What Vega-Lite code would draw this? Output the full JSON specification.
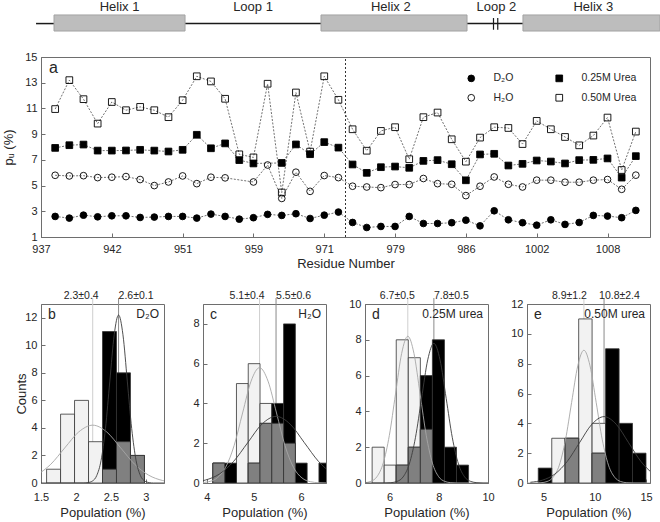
{
 "$schema": "https://vega.github.io/schema/vega-lite/v6.json",
 "padding": {"left": 2, "top": 0, "right": 0, "bottom": 0},
 "background": "white",
 "config": {
  "font": "Liberation Sans",
  "view": {"stroke": null},
  "axis": {"grid": false, "domainColor": "#6e6e6e", "domainWidth": 1, "tickColor": "#6e6e6e", "tickWidth": 1, "tickSize": -4, "labelPadding": 8, "labelFontSize": 11, "labelColor": "#262626", "labelFlush": false, "labelOverlap": false, "labelBound": false, "titleFontSize": 13, "titleFontWeight": "normal", "titleColor": "#262626", "labelFont": "Liberation Sans", "titleFont": "Liberation Sans"},
  "text": {"font": "Liberation Sans", "color": "#262626"}
 },
 "datasets": {
  "pu": [
   {"i":1,"d2o":2.60,"h2o":5.80,"u25":7.93,"u50":10.95},
   {"i":2,"d2o":2.47,"h2o":5.75,"u25":8.14,"u50":13.2},
   {"i":3,"d2o":2.70,"h2o":5.77,"u25":8.19,"u50":11.72},
   {"i":4,"d2o":2.57,"h2o":5.62,"u25":7.72,"u50":9.82},
   {"i":5,"d2o":2.65,"h2o":5.65,"u25":7.72,"u50":11.5},
   {"i":6,"d2o":2.65,"h2o":5.70,"u25":7.73,"u50":10.86},
   {"i":7,"d2o":2.52,"h2o":5.47,"u25":7.78,"u50":11.12},
   {"i":8,"d2o":2.55,"h2o":5.00,"u25":7.72,"u50":10.86},
   {"i":9,"d2o":2.60,"h2o":5.28,"u25":7.65,"u50":10.32},
   {"i":10,"d2o":2.60,"h2o":5.75,"u25":7.78,"u50":11.64},
   {"i":11,"d2o":2.47,"h2o":5.15,"u25":8.95,"u50":13.5},
   {"i":12,"d2o":2.78,"h2o":5.65,"u25":7.90,"u50":13.1},
   {"i":13,"d2o":2.60,"h2o":5.60,"u25":8.28,"u50":11.75},
   {"i":14,"d2o":2.39,"h2o":null,"u25":6.98,"u50":7.43},
   {"i":15,"d2o":2.50,"h2o":5.28,"u25":6.72,"u50":7.19},
   {"i":16,"d2o":2.76,"h2o":6.60,"u25":null,"u50":12.92},
   {"i":17,"d2o":2.68,"h2o":4.00,"u25":6.76,"u50":4.46},
   {"i":18,"d2o":2.81,"h2o":6.04,"u25":8.20,"u50":12.24},
   {"i":19,"d2o":2.44,"h2o":4.55,"u25":7.44,"u50":7.64},
   {"i":20,"d2o":2.70,"h2o":5.78,"u25":8.38,"u50":13.5},
   {"i":21,"d2o":2.94,"h2o":5.62,"u25":7.95,"u50":11.67},
   {"i":22,"d2o":2.13,"h2o":4.95,"u25":6.64,"u50":9.38},
   {"i":23,"d2o":1.74,"h2o":4.89,"u25":5.99,"u50":7.71},
   {"i":24,"d2o":1.82,"h2o":4.84,"u25":6.43,"u50":9.25},
   {"i":25,"d2o":1.82,"h2o":5.08,"u25":6.48,"u50":9.54},
   {"i":26,"d2o":2.60,"h2o":5.08,"u25":6.38,"u50":7.05},
   {"i":27,"d2o":2.05,"h2o":5.55,"u25":6.92,"u50":10.32},
   {"i":28,"d2o":2.05,"h2o":5.15,"u25":6.98,"u50":10.68},
   {"i":29,"d2o":2.11,"h2o":5.10,"u25":6.66,"u50":8.60},
   {"i":30,"d2o":2.31,"h2o":4.22,"u25":5.41,"u50":6.86},
   {"i":31,"d2o":1.87,"h2o":4.95,"u25":7.42,"u50":8.73},
   {"i":32,"d2o":3.04,"h2o":5.67,"u25":7.47,"u50":9.54},
   {"i":33,"d2o":2.34,"h2o":5.10,"u25":6.56,"u50":9.48},
   {"i":34,"d2o":2.11,"h2o":4.89,"u25":6.69,"u50":8.23},
   {"i":35,"d2o":1.92,"h2o":5.42,"u25":6.95,"u50":10.03},
   {"i":36,"d2o":2.34,"h2o":5.42,"u25":6.87,"u50":9.38},
   {"i":37,"d2o":1.98,"h2o":5.26,"u25":6.72,"u50":8.78},
   {"i":38,"d2o":2.13,"h2o":5.26,"u25":6.98,"u50":8.13},
   {"i":39,"d2o":2.68,"h2o":5.42,"u25":7.00,"u50":8.89},
   {"i":40,"d2o":2.63,"h2o":5.47,"u25":7.11,"u50":10.29},
   {"i":41,"d2o":2.50,"h2o":4.71,"u25":5.62,"u50":6.21},
   {"i":42,"d2o":3.07,"h2o":5.81,"u25":7.29,"u50":9.20}
  ],
  "schem": [
   {"seg":"","kind":"tail","start":-0.35,"end":0.92,"mid":0},
   {"seg":"Helix 1","kind":"helix","start":0.92,"end":10.17,"mid":5.55},
   {"seg":"Loop 1","kind":"loop","start":10.17,"end":19.77,"mid":14.97},
   {"seg":"Helix 2","kind":"helix","start":19.77,"end":30.08,"mid":24.7},
   {"seg":"Loop 2","kind":"loop","start":30.08,"end":34.03,"mid":32.15},
   {"seg":"Helix 3","kind":"helix","start":34.03,"end":43.7,"mid":39.0}
  ],
  "brk": [{"at":31.95},{"at":32.25}],
  "panels": [
   {"p":"a","tag":"a","cond":""},
   {"p":"b","tag":"b","cond":"D₂O"},
   {"p":"c","tag":"c","cond":"H₂O"},
   {"p":"d","tag":"d","cond":"0.25M urea"},
   {"p":"e","tag":"e","cond":"0.50M urea"}
  ],
  "hist": [
   {"p":"b","g":"light","x0":1.58,"x1":1.78,"n":1},
   {"p":"b","g":"light","x0":1.78,"x1":1.98,"n":5},
   {"p":"b","g":"light","x0":1.98,"x1":2.18,"n":6},
   {"p":"b","g":"light","x0":2.18,"x1":2.38,"n":3},
   {"p":"b","g":"light","x0":2.38,"x1":2.58,"n":1},
   {"p":"b","g":"light","x0":2.58,"x1":2.78,"n":3},
   {"p":"b","g":"light","x0":2.78,"x1":2.98,"n":2},
   {"p":"b","g":"dark","x0":2.38,"x1":2.58,"n":11},
   {"p":"b","g":"dark","x0":2.58,"x1":2.78,"n":8},
   {"p":"b","g":"dark","x0":2.78,"x1":2.98,"n":2},
   {"p":"b","g":"both","x0":2.38,"x1":2.58,"n":1},
   {"p":"b","g":"both","x0":2.58,"x1":2.78,"n":3},
   {"p":"b","g":"both","x0":2.78,"x1":2.98,"n":2},
   {"p":"c","g":"light","x0":4.13,"x1":4.38,"n":1},
   {"p":"c","g":"light","x0":4.63,"x1":4.88,"n":5},
   {"p":"c","g":"light","x0":4.88,"x1":5.13,"n":6},
   {"p":"c","g":"light","x0":5.13,"x1":5.38,"n":4},
   {"p":"c","g":"light","x0":5.38,"x1":5.63,"n":3},
   {"p":"c","g":"light","x0":5.63,"x1":5.88,"n":2},
   {"p":"c","g":"dark","x0":4.13,"x1":4.38,"n":1},
   {"p":"c","g":"dark","x0":4.38,"x1":4.63,"n":1},
   {"p":"c","g":"dark","x0":4.88,"x1":5.13,"n":1},
   {"p":"c","g":"dark","x0":5.13,"x1":5.38,"n":3},
   {"p":"c","g":"dark","x0":5.38,"x1":5.63,"n":4},
   {"p":"c","g":"dark","x0":5.63,"x1":5.88,"n":8},
   {"p":"c","g":"dark","x0":5.88,"x1":6.13,"n":1},
   {"p":"c","g":"dark","x0":6.38,"x1":6.63,"n":1},
   {"p":"c","g":"both","x0":4.13,"x1":4.38,"n":1},
   {"p":"c","g":"both","x0":4.88,"x1":5.13,"n":1},
   {"p":"c","g":"both","x0":5.13,"x1":5.38,"n":3},
   {"p":"c","g":"both","x0":5.38,"x1":5.63,"n":3},
   {"p":"c","g":"both","x0":5.63,"x1":5.88,"n":2},
   {"p":"d","g":"light","x0":5.29,"x1":5.78,"n":2},
   {"p":"d","g":"light","x0":5.78,"x1":6.27,"n":1},
   {"p":"d","g":"light","x0":6.27,"x1":6.76,"n":8},
   {"p":"d","g":"light","x0":6.76,"x1":7.25,"n":7},
   {"p":"d","g":"light","x0":7.25,"x1":7.74,"n":3},
   {"p":"d","g":"dark","x0":6.27,"x1":6.76,"n":1},
   {"p":"d","g":"dark","x0":6.76,"x1":7.25,"n":2},
   {"p":"d","g":"dark","x0":7.25,"x1":7.74,"n":6},
   {"p":"d","g":"dark","x0":7.74,"x1":8.23,"n":8},
   {"p":"d","g":"dark","x0":8.23,"x1":8.72,"n":2},
   {"p":"d","g":"dark","x0":8.72,"x1":9.21,"n":1},
   {"p":"d","g":"both","x0":6.27,"x1":6.76,"n":1},
   {"p":"d","g":"both","x0":6.76,"x1":7.25,"n":2},
   {"p":"d","g":"both","x0":7.25,"x1":7.74,"n":3},
   {"p":"e","g":"light","x0":5.79,"x1":7.10,"n":3},
   {"p":"e","g":"light","x0":7.10,"x1":8.42,"n":3},
   {"p":"e","g":"light","x0":8.42,"x1":9.73,"n":11},
   {"p":"e","g":"light","x0":9.73,"x1":11.05,"n":4},
   {"p":"e","g":"dark","x0":4.47,"x1":5.79,"n":1},
   {"p":"e","g":"dark","x0":7.10,"x1":8.42,"n":3},
   {"p":"e","g":"dark","x0":9.73,"x1":11.05,"n":2},
   {"p":"e","g":"dark","x0":11.05,"x1":12.37,"n":9},
   {"p":"e","g":"dark","x0":12.37,"x1":13.68,"n":4},
   {"p":"e","g":"dark","x0":13.68,"x1":15.0,"n":2},
   {"p":"e","g":"both","x0":7.10,"x1":8.42,"n":3},
   {"p":"e","g":"both","x0":9.73,"x1":11.05,"n":2}
  ],
  "means": [
   {"p":"b","g":"light","m":2.24,"txt":"2.3±0.4"},
   {"p":"b","g":"dark","m":2.61,"txt":"2.6±0.1"},
   {"p":"c","g":"light","m":5.12,"txt":"5.1±0.4"},
   {"p":"c","g":"dark","m":5.47,"txt":"5.5±0.6"},
   {"p":"d","g":"light","m":6.74,"txt":"6.7±0.5"},
   {"p":"d","g":"dark","m":7.8,"txt":"7.8±0.5"},
   {"p":"e","g":"light","m":8.93,"txt":"8.9±1.2"},
   {"p":"e","g":"dark","m":10.9,"txt":"10.8±2.4"}
  ],
  "curve": [
   {"p":"b","g":"light","x":1.44,"y":0.57},{"p":"b","g":"light","x":1.64,"y":1.36},{"p":"b","g":"light","x":1.84,"y":2.55},{"p":"b","g":"light","x":2.04,"y":3.71},{"p":"b","g":"light","x":2.24,"y":4.2},{"p":"b","g":"light","x":2.44,"y":3.71},{"p":"b","g":"light","x":2.64,"y":2.55},{"p":"b","g":"light","x":2.84,"y":1.36},{"p":"b","g":"light","x":3.04,"y":0.57},{"p":"b","g":"light","x":3.24,"y":0.18},{"p":"b","g":"light","x":3.44,"y":0.05},
   {"p":"b","g":"dark","x":1.45,"y":0},{"p":"b","g":"dark","x":2.11,"y":0},{"p":"b","g":"dark","x":2.1725,"y":0.03},{"p":"b","g":"dark","x":2.235,"y":0.14},{"p":"b","g":"dark","x":2.2975,"y":0.54},{"p":"b","g":"dark","x":2.36,"y":1.65},{"p":"b","g":"dark","x":2.4225,"y":3.96},{"p":"b","g":"dark","x":2.485,"y":7.4},{"p":"b","g":"dark","x":2.5475,"y":10.77},{"p":"b","g":"dark","x":2.61,"y":12.2},{"p":"b","g":"dark","x":2.6725,"y":10.77},{"p":"b","g":"dark","x":2.735,"y":7.4},{"p":"b","g":"dark","x":2.7975,"y":3.96},{"p":"b","g":"dark","x":2.86,"y":1.65},{"p":"b","g":"dark","x":2.9225,"y":0.54},{"p":"b","g":"dark","x":2.985,"y":0.14},{"p":"b","g":"dark","x":3.0475,"y":0.03},{"p":"b","g":"dark","x":3.11,"y":0},{"p":"b","g":"dark","x":3.3,"y":0},
   {"p":"c","g":"light","x":3.68,"y":0},{"p":"c","g":"light","x":3.86,"y":0.013},{"p":"c","g":"light","x":4.04,"y":0.064},{"p":"c","g":"light","x":4.22,"y":0.255},{"p":"c","g":"light","x":4.4,"y":0.785},{"p":"c","g":"light","x":4.58,"y":1.88},{"p":"c","g":"light","x":4.76,"y":3.52},{"p":"c","g":"light","x":4.94,"y":5.12},{"p":"c","g":"light","x":5.12,"y":5.8},{"p":"c","g":"light","x":5.3,"y":5.12},{"p":"c","g":"light","x":5.48,"y":3.52},{"p":"c","g":"light","x":5.66,"y":1.88},{"p":"c","g":"light","x":5.84,"y":0.785},{"p":"c","g":"light","x":6.02,"y":0.255},{"p":"c","g":"light","x":6.2,"y":0.064},{"p":"c","g":"light","x":6.38,"y":0.013},{"p":"c","g":"light","x":6.56,"y":0},{"p":"c","g":"light","x":6.7,"y":0},
   {"p":"c","g":"dark","x":3.67,"y":0.037},{"p":"c","g":"dark","x":3.97,"y":0.147},{"p":"c","g":"dark","x":4.27,"y":0.453},{"p":"c","g":"dark","x":4.57,"y":1.088},{"p":"c","g":"dark","x":4.87,"y":2.03},{"p":"c","g":"dark","x":5.17,"y":2.96},{"p":"c","g":"dark","x":5.47,"y":3.35},{"p":"c","g":"dark","x":5.77,"y":2.96},{"p":"c","g":"dark","x":6.07,"y":2.03},{"p":"c","g":"dark","x":6.37,"y":1.088},{"p":"c","g":"dark","x":6.67,"y":0.453},
   {"p":"d","g":"light","x":4.74,"y":0},{"p":"d","g":"light","x":4.99,"y":0.018},{"p":"d","g":"light","x":5.24,"y":0.091},{"p":"d","g":"light","x":5.49,"y":0.36},{"p":"d","g":"light","x":5.74,"y":1.11},{"p":"d","g":"light","x":5.99,"y":2.66},{"p":"d","g":"light","x":6.24,"y":4.97},{"p":"d","g":"light","x":6.49,"y":7.24},{"p":"d","g":"light","x":6.74,"y":8.2},{"p":"d","g":"light","x":6.99,"y":7.24},{"p":"d","g":"light","x":7.24,"y":4.97},{"p":"d","g":"light","x":7.49,"y":2.66},{"p":"d","g":"light","x":7.74,"y":1.11},{"p":"d","g":"light","x":7.99,"y":0.36},{"p":"d","g":"light","x":8.24,"y":0.091},{"p":"d","g":"light","x":8.49,"y":0.018},{"p":"d","g":"light","x":8.74,"y":0},{"p":"d","g":"light","x":10.1,"y":0},
   {"p":"d","g":"dark","x":4.9,"y":0},{"p":"d","g":"dark","x":5.8,"y":0},{"p":"d","g":"dark","x":6.05,"y":0.017},{"p":"d","g":"dark","x":6.3,"y":0.087},{"p":"d","g":"dark","x":6.55,"y":0.34},{"p":"d","g":"dark","x":6.8,"y":1.06},{"p":"d","g":"dark","x":7.05,"y":2.53},{"p":"d","g":"dark","x":7.3,"y":4.73},{"p":"d","g":"dark","x":7.55,"y":6.88},{"p":"d","g":"dark","x":7.8,"y":7.8},{"p":"d","g":"dark","x":8.05,"y":6.88},{"p":"d","g":"dark","x":8.3,"y":4.73},{"p":"d","g":"dark","x":8.55,"y":2.53},{"p":"d","g":"dark","x":8.8,"y":1.06},{"p":"d","g":"dark","x":9.05,"y":0.34},{"p":"d","g":"dark","x":9.3,"y":0.087},{"p":"d","g":"dark","x":9.55,"y":0.017},{"p":"d","g":"dark","x":9.8,"y":0},{"p":"d","g":"dark","x":10.1,"y":0},
   {"p":"e","g":"light","x":3.3,"y":0},{"p":"e","g":"light","x":4.13,"y":0.003},{"p":"e","g":"light","x":4.73,"y":0.019},{"p":"e","g":"light","x":5.33,"y":0.099},{"p":"e","g":"light","x":5.93,"y":0.39},{"p":"e","g":"light","x":6.53,"y":1.2},{"p":"e","g":"light","x":7.13,"y":2.89},{"p":"e","g":"light","x":7.73,"y":5.4},{"p":"e","g":"light","x":8.33,"y":7.85},{"p":"e","g":"light","x":8.93,"y":8.9},{"p":"e","g":"light","x":9.53,"y":7.85},{"p":"e","g":"light","x":10.13,"y":5.4},{"p":"e","g":"light","x":10.73,"y":2.89},{"p":"e","g":"light","x":11.33,"y":1.2},{"p":"e","g":"light","x":11.93,"y":0.39},{"p":"e","g":"light","x":12.53,"y":0.099},{"p":"e","g":"light","x":13.13,"y":0.019},{"p":"e","g":"light","x":13.73,"y":0.003},{"p":"e","g":"light","x":15.5,"y":0},
   {"p":"e","g":"dark","x":3.7,"y":0.049},{"p":"e","g":"dark","x":4.9,"y":0.195},{"p":"e","g":"dark","x":6.1,"y":0.6},{"p":"e","g":"dark","x":7.3,"y":1.445},{"p":"e","g":"dark","x":8.5,"y":2.7},{"p":"e","g":"dark","x":9.7,"y":3.93},{"p":"e","g":"dark","x":10.9,"y":4.45},{"p":"e","g":"dark","x":12.1,"y":3.93},{"p":"e","g":"dark","x":13.3,"y":2.7},{"p":"e","g":"dark","x":14.5,"y":1.445},{"p":"e","g":"dark","x":15.7,"y":0.6}
  ]
 },
 "spacing": 19,
 "vconcat": [
  {
   "width": 609, "height": 180,
   "view": {"stroke": "#6e6e6e"},
   "layer": [
    {"data": {"name": "schem"}, "transform": [{"filter": "datum.kind !== 'helix'"}], "mark": {"type": "rule", "stroke": "#1a1a1a", "strokeWidth": 1.5}, "encoding": {"x": {"field": "start", "type": "quantitative"}, "x2": {"field": "end"}, "y": {"datum": 17.6}}},
    {"data": {"name": "schem"}, "transform": [{"filter": "datum.kind === 'helix'"}], "mark": {"type": "rect", "fill": "#bdbdbd", "stroke": "#a3a3a3", "strokeWidth": 1}, "encoding": {"x": {"field": "start", "type": "quantitative"}, "x2": {"field": "end"}, "y": {"datum": 18.27}, "y2": {"datum": 17.02}}},
    {"data": {"name": "brk"}, "mark": {"type": "rule", "stroke": "#1a1a1a", "strokeWidth": 1.2}, "encoding": {"x": {"field": "at", "type": "quantitative"}, "y": {"datum": 18.03}, "y2": {"datum": 17.12}}},
    {"data": {"name": "schem"}, "transform": [{"filter": "datum.kind !== 'tail'"}], "mark": {"type": "text", "fontSize": 13}, "encoding": {"x": {"field": "mid", "type": "quantitative"}, "y": {"datum": 18.89}, "text": {"field": "seg"}}},
    {"data": {"values": [{}]}, "mark": {"type": "rule", "stroke": "#333333", "strokeWidth": 1, "strokeDash": [2, 2]}, "encoding": {"x": {"datum": 21.5}, "y": {"datum": 1}, "y2": {"datum": 15}}},
    {"data": {"name": "panels"}, "transform": [{"filter": "datum.p === 'a'"}], "mark": {"type": "text", "fontSize": 16, "align": "left", "baseline": "top", "dx": 8, "dy": 3}, "encoding": {"x": {"datum": 0}, "y": {"datum": 15}, "text": {"field": "tag"}}},
    {"data": {"name": "pu"},
     "transform": [{"fold": ["d2o", "h2o", "u25", "u50"], "as": ["series", "pu"]}, {"filter": "isValid(datum.pu)"}],
     "mark": {"type": "line", "stroke": "#4d4d4d", "strokeWidth": 0.8, "strokeDash": [2, 1.5]},
     "encoding": {
      "x": {"field": "i", "type": "quantitative"},
      "y": {"field": "pu", "type": "quantitative"},
      "detail": {"field": "series"}
     }},
    {"data": {"name": "pu"},
     "transform": [{"fold": ["d2o", "h2o", "u25", "u50"], "as": ["series", "pu"]}, {"filter": "isValid(datum.pu)"}],
     "mark": {"type": "point", "filled": true, "stroke": "black", "strokeWidth": 0.9, "opacity": 1, "fillOpacity": 1},
     "encoding": {
      "x": {"field": "i", "type": "quantitative", "scale": {"domain": [0, 43], "nice": false, "zero": false}, "axis": {"values": [0,5,10,15,20,25,30,35,40], "tickCount": 50, "labelOverlap": false, "labelPadding": 10, "labelExpr": "['937','942','951','959','971','979','986','1002','1008'][round(datum.value/5)]", "title": "Residue Number", "titlePadding": 3}},
      "y": {"field": "pu", "type": "quantitative", "scale": {"domain": [1, 15], "nice": false, "zero": false}, "axis": {"values": [1,3,5,7,9,11,13,15], "tickCount": 50, "format": "d", "labelOverlap": false, "title": "pᵤ (%)", "titlePadding": 9}},
      "shape": {"field": "series", "type": "nominal", "scale": {"domain": ["d2o", "h2o", "u25", "u50"], "range": ["circle", "circle", "square", "square"]},
       "legend": {"title": null, "orient": "none", "legendX": 425, "legendY": 16, "columns": 2, "columnPadding": 40, "rowPadding": 8.5, "padding": 0,
        "labelFontSize": 10.5, "labelFont": "Liberation Sans", "labelColor": "#262626", "labelOffset": 17, "symbolSize": 64, "symbolStrokeWidth": 0.9,
        "labelExpr": "datum.value === 'd2o' ? 'D₂O' : datum.value === 'h2o' ? 'H₂O' : datum.value === 'u25' ? '0.25M Urea' : '0.50M Urea'",
        "encode": {"symbols": {"update": {
         "shape": {"signal": "datum.value === 'd2o' ? 'M-2.2,0H-1.3M1.3,0H1.8M2.2,0H2.7M3.1,0H3.6M4,0H4.5M-0.9,0A0.9,0.9,0,1,0,0.9,0A0.9,0.9,0,1,0,-0.9,0Z' : datum.value === 'h2o' ? 'M-2.2,0H-1.3M1.3,0H1.8M2.2,0H2.7M3.1,0H3.6M4,0H4.5M-0.5,0H0.5M-0.9,0A0.9,0.9,0,1,0,0.9,0A0.9,0.9,0,1,0,-0.9,0Z' : datum.value === 'u25' ? 'M-2.2,0H-1.3M1.3,0H1.8M2.2,0H2.7M3.1,0H3.6M4,0H4.5M-1,-1H1V1H-1Z' : 'M-1,-1H1V1H-1Z'"},
         "fill": {"signal": "datum.value === 'd2o' || datum.value === 'u25' ? 'black' : 'transparent'"},
         "stroke": {"value": "black"},
         "strokeWidth": {"value": 0.9},
         "size": {"value": 64},
         "opacity": {"value": 1}
        }}}
       }},
      "fill": {"field": "series", "type": "nominal", "scale": {"domain": ["d2o", "h2o", "u25", "u50"], "range": ["black", "transparent", "black", "transparent"]}},
      "size": {"field": "series", "type": "nominal", "scale": {"domain": ["d2o", "h2o", "u25", "u50"], "range": [45, 45, 68, 68]}}
     }}
   ]
  },
  {
   "hconcat": [
    {
     "width": 123, "height": 179,
     "view": {"stroke": "#6e6e6e"},
     "layer": [
      {"data": {"name": "means"}, "transform": [{"filter": "datum.p === 'b' && datum.g === 'light'"}], "mark": {"type": "rule", "stroke": "#cfcfcf", "strokeWidth": 1, "y2Offset": -6}, "encoding": {"x": {"field": "m", "type": "quantitative"}, "y": {"datum": 0}, "y2": {"datum": 13}}},
      {"data": {"name": "means"}, "transform": [{"filter": "datum.p === 'b' && datum.g === 'dark'"}], "mark": {"type": "rule", "stroke": "#8a8a8a", "strokeWidth": 1, "y2Offset": -6}, "encoding": {"x": {"field": "m", "type": "quantitative"}, "y": {"datum": 0}, "y2": {"datum": 13}}},
      {"data": {"name": "hist"}, "transform": [{"filter": "datum.p === 'b' && datum.g === 'light'"}], "mark": {"type": "rect", "fill": "#f2f2f2", "stroke": "#333333", "strokeWidth": 0.8, "clip": true},
       "encoding": {
        "x": {"field": "x0", "type": "quantitative", "scale": {"domain": [1.5, 3.26], "nice": false, "zero": false}, "axis": {"values": [1.5, 2, 2.5, 3], "tickCount": 50, "labelOverlap": false, "labelPadding": 12, "format": "~r", "title": "Population (%)", "titlePadding": 4}},
        "x2": {"field": "x1"},
        "y": {"field": "n", "type": "quantitative", "scale": {"domain": [0, 13], "nice": false, "zero": false}, "axis": {"values": [0,2,4,6,8,10,12], "tickCount": 50, "format": "d", "labelOverlap": false, "title": "Counts", "titlePadding": -4}},
        "y2": {"datum": 0}
       }},
      {"data": {"name": "hist"}, "transform": [{"filter": "datum.p === 'b' && datum.g === 'dark'"}], "mark": {"type": "rect", "fill": "#000000", "stroke": "#333333", "strokeWidth": 0.8, "clip": true},
       "encoding": {"x": {"field": "x0", "type": "quantitative"}, "x2": {"field": "x1"}, "y": {"field": "n", "type": "quantitative"}, "y2": {"datum": 0}}},
      {"data": {"name": "hist"}, "transform": [{"filter": "datum.p === 'b' && datum.g === 'both'"}], "mark": {"type": "rect", "fill": "#808080", "stroke": "#333333", "strokeWidth": 0.8, "clip": true},
       "encoding": {"x": {"field": "x0", "type": "quantitative"}, "x2": {"field": "x1"}, "y": {"field": "n", "type": "quantitative"}, "y2": {"datum": 0}}},
      {"data": {"name": "curve"}, "transform": [{"filter": "datum.p === 'b' && datum.g === 'light'"}], "mark": {"type": "line", "stroke": "#a6a6a6", "strokeWidth": 0.9, "interpolate": "monotone", "clip": true},
       "encoding": {"x": {"field": "x", "type": "quantitative"}, "y": {"field": "y", "type": "quantitative"}}},
      {"data": {"name": "curve"}, "transform": [{"filter": "datum.p === 'b' && datum.g === 'dark'"}], "mark": {"type": "line", "stroke": "#3c3c3c", "strokeWidth": 0.9, "interpolate": "monotone", "clip": true},
       "encoding": {"x": {"field": "x", "type": "quantitative"}, "y": {"field": "y", "type": "quantitative"}}},
      {"data": {"name": "means"}, "transform": [{"filter": "datum.p === 'b' && datum.g === 'light'"}], "mark": {"type": "text", "fontSize": 10.5, "align": "right", "baseline": "bottom", "dx": 6, "dy": -3}, "encoding": {"x": {"field": "m", "type": "quantitative"}, "y": {"datum": 13}, "text": {"field": "txt"}}},
      {"data": {"name": "means"}, "transform": [{"filter": "datum.p === 'b' && datum.g === 'dark'"}], "mark": {"type": "text", "fontSize": 10.5, "align": "left", "baseline": "bottom", "dx": 0, "dy": -3}, "encoding": {"x": {"field": "m", "type": "quantitative"}, "y": {"datum": 13}, "text": {"field": "txt"}}},
      {"data": {"name": "panels"}, "transform": [{"filter": "datum.p === 'b'"}], "mark": {"type": "text", "fontSize": 14, "align": "left", "baseline": "top", "dx": 7, "dy": 4}, "encoding": {"x": {"datum": 1.5}, "y": {"datum": 13}, "text": {"field": "tag"}}},
      {"data": {"name": "panels"}, "transform": [{"filter": "datum.p === 'b'"}], "mark": {"type": "text", "fontSize": 12, "align": "right", "baseline": "top", "dx": -5, "dy": 5}, "encoding": {"x": {"datum": 3.26}, "y": {"datum": 13}, "text": {"field": "cond"}}}
     ]
    },
    {
     "width": 123, "height": 179,
     "view": {"stroke": "#6e6e6e"},
     "layer": [
      {"data": {"name": "means"}, "transform": [{"filter": "datum.p === 'c' && datum.g === 'light'"}], "mark": {"type": "rule", "stroke": "#cfcfcf", "strokeWidth": 1, "y2Offset": -6}, "encoding": {"x": {"field": "m", "type": "quantitative"}, "y": {"datum": 0}, "y2": {"datum": 9}}},
      {"data": {"name": "means"}, "transform": [{"filter": "datum.p === 'c' && datum.g === 'dark'"}], "mark": {"type": "rule", "stroke": "#8a8a8a", "strokeWidth": 1, "y2Offset": -6}, "encoding": {"x": {"field": "m", "type": "quantitative"}, "y": {"datum": 0}, "y2": {"datum": 9}}},
      {"data": {"name": "hist"}, "transform": [{"filter": "datum.p === 'c' && datum.g === 'light'"}], "mark": {"type": "rect", "fill": "#f2f2f2", "stroke": "#333333", "strokeWidth": 0.8, "clip": true},
       "encoding": {
        "x": {"field": "x0", "type": "quantitative", "scale": {"domain": [3.92, 6.53], "nice": false, "zero": false}, "axis": {"values": [4, 5, 6], "tickCount": 50, "labelOverlap": false, "labelPadding": 12, "format": "~r", "title": "Population (%)", "titlePadding": 4}},
        "x2": {"field": "x1"},
        "y": {"field": "n", "type": "quantitative", "scale": {"domain": [0, 9], "nice": false, "zero": false}, "axis": {"values": [0,2,4,6,8], "tickCount": 50, "format": "d", "labelOverlap": false, "title": null}},
        "y2": {"datum": 0}
       }},
      {"data": {"name": "hist"}, "transform": [{"filter": "datum.p === 'c' && datum.g === 'dark'"}], "mark": {"type": "rect", "fill": "#000000", "stroke": "#333333", "strokeWidth": 0.8, "clip": true},
       "encoding": {"x": {"field": "x0", "type": "quantitative"}, "x2": {"field": "x1"}, "y": {"field": "n", "type": "quantitative"}, "y2": {"datum": 0}}},
      {"data": {"name": "hist"}, "transform": [{"filter": "datum.p === 'c' && datum.g === 'both'"}], "mark": {"type": "rect", "fill": "#808080", "stroke": "#333333", "strokeWidth": 0.8, "clip": true},
       "encoding": {"x": {"field": "x0", "type": "quantitative"}, "x2": {"field": "x1"}, "y": {"field": "n", "type": "quantitative"}, "y2": {"datum": 0}}},
      {"data": {"name": "curve"}, "transform": [{"filter": "datum.p === 'c' && datum.g === 'light'"}], "mark": {"type": "line", "stroke": "#a6a6a6", "strokeWidth": 0.9, "interpolate": "monotone", "clip": true},
       "encoding": {"x": {"field": "x", "type": "quantitative"}, "y": {"field": "y", "type": "quantitative"}}},
      {"data": {"name": "curve"}, "transform": [{"filter": "datum.p === 'c' && datum.g === 'dark'"}], "mark": {"type": "line", "stroke": "#3c3c3c", "strokeWidth": 0.9, "interpolate": "monotone", "clip": true},
       "encoding": {"x": {"field": "x", "type": "quantitative"}, "y": {"field": "y", "type": "quantitative"}}},
      {"data": {"name": "means"}, "transform": [{"filter": "datum.p === 'c' && datum.g === 'light'"}], "mark": {"type": "text", "fontSize": 10.5, "align": "right", "baseline": "bottom", "dx": 5, "dy": -3}, "encoding": {"x": {"field": "m", "type": "quantitative"}, "y": {"datum": 9}, "text": {"field": "txt"}}},
      {"data": {"name": "means"}, "transform": [{"filter": "datum.p === 'c' && datum.g === 'dark'"}], "mark": {"type": "text", "fontSize": 10.5, "align": "left", "baseline": "bottom", "dx": 0, "dy": -3}, "encoding": {"x": {"field": "m", "type": "quantitative"}, "y": {"datum": 9}, "text": {"field": "txt"}}},
      {"data": {"name": "panels"}, "transform": [{"filter": "datum.p === 'c'"}], "mark": {"type": "text", "fontSize": 14, "align": "left", "baseline": "top", "dx": 7, "dy": 4}, "encoding": {"x": {"datum": 3.92}, "y": {"datum": 9}, "text": {"field": "tag"}}},
      {"data": {"name": "panels"}, "transform": [{"filter": "datum.p === 'c'"}], "mark": {"type": "text", "fontSize": 12, "align": "right", "baseline": "top", "dx": -5, "dy": 5}, "encoding": {"x": {"datum": 6.53}, "y": {"datum": 9}, "text": {"field": "cond"}}}
     ]
    },
    {
     "width": 123, "height": 179,
     "view": {"stroke": "#6e6e6e"},
     "layer": [
      {"data": {"name": "means"}, "transform": [{"filter": "datum.p === 'd' && datum.g === 'light'"}], "mark": {"type": "rule", "stroke": "#cfcfcf", "strokeWidth": 1, "y2Offset": -6}, "encoding": {"x": {"field": "m", "type": "quantitative"}, "y": {"datum": 0}, "y2": {"datum": 10}}},
      {"data": {"name": "means"}, "transform": [{"filter": "datum.p === 'd' && datum.g === 'dark'"}], "mark": {"type": "rule", "stroke": "#8a8a8a", "strokeWidth": 1, "y2Offset": -6}, "encoding": {"x": {"field": "m", "type": "quantitative"}, "y": {"datum": 0}, "y2": {"datum": 10}}},
      {"data": {"name": "hist"}, "transform": [{"filter": "datum.p === 'd' && datum.g === 'light'"}], "mark": {"type": "rect", "fill": "#f2f2f2", "stroke": "#333333", "strokeWidth": 0.8, "clip": true},
       "encoding": {
        "x": {"field": "x0", "type": "quantitative", "scale": {"domain": [5, 10], "nice": false, "zero": false}, "axis": {"values": [6, 8, 10], "tickCount": 50, "labelOverlap": false, "labelPadding": 12, "format": "~r", "title": "Population (%)", "titlePadding": 4}},
        "x2": {"field": "x1"},
        "y": {"field": "n", "type": "quantitative", "scale": {"domain": [0, 10], "nice": false, "zero": false}, "axis": {"values": [0,2,4,6,8,10], "tickCount": 50, "format": "d", "labelOverlap": false, "title": null}},
        "y2": {"datum": 0}
       }},
      {"data": {"name": "hist"}, "transform": [{"filter": "datum.p === 'd' && datum.g === 'dark'"}], "mark": {"type": "rect", "fill": "#000000", "stroke": "#333333", "strokeWidth": 0.8, "clip": true},
       "encoding": {"x": {"field": "x0", "type": "quantitative"}, "x2": {"field": "x1"}, "y": {"field": "n", "type": "quantitative"}, "y2": {"datum": 0}}},
      {"data": {"name": "hist"}, "transform": [{"filter": "datum.p === 'd' && datum.g === 'both'"}], "mark": {"type": "rect", "fill": "#808080", "stroke": "#333333", "strokeWidth": 0.8, "clip": true},
       "encoding": {"x": {"field": "x0", "type": "quantitative"}, "x2": {"field": "x1"}, "y": {"field": "n", "type": "quantitative"}, "y2": {"datum": 0}}},
      {"data": {"name": "curve"}, "transform": [{"filter": "datum.p === 'd' && datum.g === 'light'"}], "mark": {"type": "line", "stroke": "#a6a6a6", "strokeWidth": 0.9, "interpolate": "monotone", "clip": true},
       "encoding": {"x": {"field": "x", "type": "quantitative"}, "y": {"field": "y", "type": "quantitative"}}},
      {"data": {"name": "curve"}, "transform": [{"filter": "datum.p === 'd' && datum.g === 'dark'"}], "mark": {"type": "line", "stroke": "#3c3c3c", "strokeWidth": 0.9, "interpolate": "monotone", "clip": true},
       "encoding": {"x": {"field": "x", "type": "quantitative"}, "y": {"field": "y", "type": "quantitative"}}},
      {"data": {"name": "means"}, "transform": [{"filter": "datum.p === 'd' && datum.g === 'light'"}], "mark": {"type": "text", "fontSize": 10.5, "align": "right", "baseline": "bottom", "dx": 7, "dy": -3}, "encoding": {"x": {"field": "m", "type": "quantitative"}, "y": {"datum": 10}, "text": {"field": "txt"}}},
      {"data": {"name": "means"}, "transform": [{"filter": "datum.p === 'd' && datum.g === 'dark'"}], "mark": {"type": "text", "fontSize": 10.5, "align": "left", "baseline": "bottom", "dx": 0, "dy": -3}, "encoding": {"x": {"field": "m", "type": "quantitative"}, "y": {"datum": 10}, "text": {"field": "txt"}}},
      {"data": {"name": "panels"}, "transform": [{"filter": "datum.p === 'd'"}], "mark": {"type": "text", "fontSize": 14, "align": "left", "baseline": "top", "dx": 7, "dy": 4}, "encoding": {"x": {"datum": 5}, "y": {"datum": 10}, "text": {"field": "tag"}}},
      {"data": {"name": "panels"}, "transform": [{"filter": "datum.p === 'd'"}], "mark": {"type": "text", "fontSize": 12, "align": "right", "baseline": "top", "dx": -5, "dy": 5}, "encoding": {"x": {"datum": 10}, "y": {"datum": 10}, "text": {"field": "cond"}}}
     ]
    },
    {
     "width": 123, "height": 179,
     "view": {"stroke": "#6e6e6e"},
     "layer": [
      {"data": {"name": "means"}, "transform": [{"filter": "datum.p === 'e' && datum.g === 'light'"}], "mark": {"type": "rule", "stroke": "#cfcfcf", "strokeWidth": 1, "y2Offset": -6}, "encoding": {"x": {"field": "m", "type": "quantitative"}, "y": {"datum": 0}, "y2": {"datum": 12}}},
      {"data": {"name": "means"}, "transform": [{"filter": "datum.p === 'e' && datum.g === 'dark'"}], "mark": {"type": "rule", "stroke": "#8a8a8a", "strokeWidth": 1, "y2Offset": -6}, "encoding": {"x": {"field": "m", "type": "quantitative"}, "y": {"datum": 0}, "y2": {"datum": 12}}},
      {"data": {"name": "hist"}, "transform": [{"filter": "datum.p === 'e' && datum.g === 'light'"}], "mark": {"type": "rect", "fill": "#f2f2f2", "stroke": "#333333", "strokeWidth": 0.8, "clip": true},
       "encoding": {
        "x": {"field": "x0", "type": "quantitative", "scale": {"domain": [3.37, 15.39], "nice": false, "zero": false}, "axis": {"values": [5, 10, 15], "tickCount": 50, "labelOverlap": false, "labelPadding": 12, "format": "~r", "title": "Population (%)", "titlePadding": 4}},
        "x2": {"field": "x1"},
        "y": {"field": "n", "type": "quantitative", "scale": {"domain": [0, 12], "nice": false, "zero": false}, "axis": {"values": [0,2,4,6,8,10,12], "tickCount": 50, "format": "d", "labelOverlap": false, "title": null}},
        "y2": {"datum": 0}
       }},
      {"data": {"name": "hist"}, "transform": [{"filter": "datum.p === 'e' && datum.g === 'dark'"}], "mark": {"type": "rect", "fill": "#000000", "stroke": "#333333", "strokeWidth": 0.8, "clip": true},
       "encoding": {"x": {"field": "x0", "type": "quantitative"}, "x2": {"field": "x1"}, "y": {"field": "n", "type": "quantitative"}, "y2": {"datum": 0}}},
      {"data": {"name": "hist"}, "transform": [{"filter": "datum.p === 'e' && datum.g === 'both'"}], "mark": {"type": "rect", "fill": "#808080", "stroke": "#333333", "strokeWidth": 0.8, "clip": true},
       "encoding": {"x": {"field": "x0", "type": "quantitative"}, "x2": {"field": "x1"}, "y": {"field": "n", "type": "quantitative"}, "y2": {"datum": 0}}},
      {"data": {"name": "curve"}, "transform": [{"filter": "datum.p === 'e' && datum.g === 'light'"}], "mark": {"type": "line", "stroke": "#a6a6a6", "strokeWidth": 0.9, "interpolate": "monotone", "clip": true},
       "encoding": {"x": {"field": "x", "type": "quantitative"}, "y": {"field": "y", "type": "quantitative"}}},
      {"data": {"name": "curve"}, "transform": [{"filter": "datum.p === 'e' && datum.g === 'dark'"}], "mark": {"type": "line", "stroke": "#3c3c3c", "strokeWidth": 0.9, "interpolate": "monotone", "clip": true},
       "encoding": {"x": {"field": "x", "type": "quantitative"}, "y": {"field": "y", "type": "quantitative"}}},
      {"data": {"name": "means"}, "transform": [{"filter": "datum.p === 'e' && datum.g === 'light'"}], "mark": {"type": "text", "fontSize": 10.5, "align": "right", "baseline": "bottom", "dx": 3, "dy": -3}, "encoding": {"x": {"field": "m", "type": "quantitative"}, "y": {"datum": 12}, "text": {"field": "txt"}}},
      {"data": {"name": "means"}, "transform": [{"filter": "datum.p === 'e' && datum.g === 'dark'"}], "mark": {"type": "text", "fontSize": 10.5, "align": "left", "baseline": "bottom", "dx": -5, "dy": -3}, "encoding": {"x": {"field": "m", "type": "quantitative"}, "y": {"datum": 12}, "text": {"field": "txt"}}},
      {"data": {"name": "panels"}, "transform": [{"filter": "datum.p === 'e'"}], "mark": {"type": "text", "fontSize": 14, "align": "left", "baseline": "top", "dx": 7, "dy": 4}, "encoding": {"x": {"datum": 3.37}, "y": {"datum": 12}, "text": {"field": "tag"}}},
      {"data": {"name": "panels"}, "transform": [{"filter": "datum.p === 'e'"}], "mark": {"type": "text", "fontSize": 12, "align": "right", "baseline": "top", "dx": -5, "dy": 5}, "encoding": {"x": {"datum": 15.39}, "y": {"datum": 12}, "text": {"field": "cond"}}}
     ]
    }
   ],
   "spacing": 39,
   "bounds": "flush"
  }
 ]
}
